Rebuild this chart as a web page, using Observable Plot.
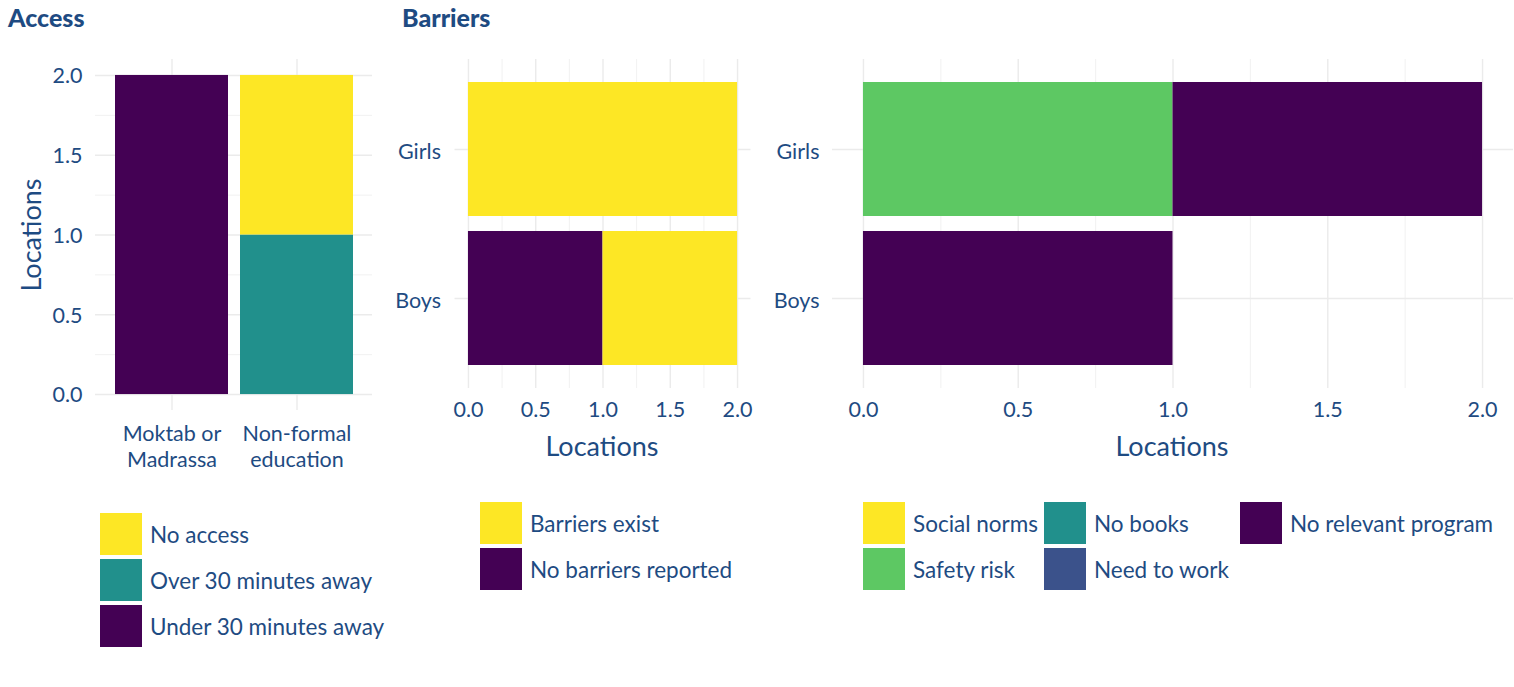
<!DOCTYPE html>
<html>
<head>
<meta charset="utf-8">
<script src="https://cdn.jsdelivr.net/npm/d3@7"></script>
<script src="https://cdn.jsdelivr.net/npm/@observablehq/plot@0.6"></script>
<style>
  html, body { margin: 0; padding: 0; background: #fff; }
  #root { position: relative; width: 1514px; height: 687px; overflow: hidden; font-family: Lato, "Open Sans", sans-serif; color: #1e4b82; }
  .abs { position: absolute; }
  .title { font-weight: 900; font-size: 25px; }
  .axtitle { font-size: 27px; white-space: nowrap; }
  .leg-item { position: absolute; display: flex; align-items: center; font-size: 22.5px; white-space: nowrap; }
  .sw { width: 42px; height: 42px; margin-right: 8px; }
  svg { overflow: visible; }
</style>
</head>
<body>
<div id="root"></div>
<script>
// ---------- data ----------
const accessCats = ["Moktab or Madrassa", "Non-formal education"];
const accessTickLabels = ["Moktab or\nMadrassa", "Non-formal\neducation"];
const accessKeys = ["No access", "Over 30 minutes away", "Under 30 minutes away"];
const accessColors = ["#FDE725", "#21908C", "#440154"];
const accessMoktab = [0, 0, 2];
const accessNonformal = [1, 1, 0];

const groups = ["Girls", "Boys"];
const barrierKeys = ["Barriers exist", "No barriers reported"];
const barrierColors = ["#FDE725", "#440154"];
const barrierGirls = [2, 0];
const barrierBoys = [1, 1];

const typeKeys = ["Social norms", "Safety risk", "No books", "Need to work", "No relevant program"];
const typeColors = ["#FDE725", "#5DC863", "#21908C", "#3B528B", "#440154"];
const typeGirls = [0, 1, 0, 0, 1];
const typeBoys = [0, 0, 0, 0, 1];

const locTicks = [0, 0.5, 1, 1.5, 2];
const locMinor = [0.25, 0.75, 1.25, 1.75];

const TXT = "#1e4b82";
const GRID = "#ebebeb";
const FS = "21.5px";
const root = document.getElementById("root");
const fmt = d3.format(".1f");

function place(el, left, top) {
  el.style.position = "absolute";
  el.style.left = left + "px";
  el.style.top = top + "px";
  root.appendChild(el);
}
function div(cls, text, css) {
  const d = document.createElement("div");
  d.className = "abs " + cls;
  d.textContent = text;
  Object.assign(d.style, css);
  root.appendChild(d);
  return d;
}

// ---------- Panel 1: Access ----------
const accessRows = [];
accessCats.forEach((c, ci) => {
  const vals = ci === 0 ? accessMoktab : accessNonformal;
  for (let k = accessKeys.length - 1; k >= 0; k--) {
    accessRows.push({cat: c, key: accessKeys[k], value: vals[k]});
  }
});
const p1 = Plot.plot({
  width: 400, height: 480,
  marginLeft: 95, marginRight: 28, marginTop: 59, marginBottom: 70,
  style: {fontSize: FS, fontFamily: "Lato, 'Open Sans', sans-serif", color: TXT, background: "transparent"},
  x: {type: "band", domain: accessCats, paddingInner: 0.1, paddingOuter: 0.15, label: null},
  y: {domain: [-0.1, 2.1], label: null},
  color: {domain: accessKeys, range: accessColors},
  marks: [
    Plot.gridY({ticks: locMinor, stroke: GRID, strokeOpacity: 1, strokeWidth: 0.7}),
    Plot.gridY({ticks: locTicks, stroke: GRID, strokeOpacity: 1, strokeWidth: 1.4}),
    Plot.gridX({stroke: GRID, strokeOpacity: 1, strokeWidth: 1.4}),
    Plot.barY(accessRows, Plot.stackY({x: "cat", y: "value", fill: "key"})),
    Plot.axisY({ticks: locTicks, tickFormat: fmt, tickSize: 0, tickPadding: 13, dy: 1, label: null}),
    Plot.axisX({tickFormat: d => accessTickLabels[accessCats.indexOf(d)], tickSize: 0, tickPadding: 12, lineHeight: 1.2, label: null})
  ]
});
place(p1, 0, 0);

// ---------- Panel 2: Barriers ----------
const barrierRows = [];
groups.forEach((g, gi) => {
  const vals = gi === 0 ? barrierGirls : barrierBoys;
  for (let k = barrierKeys.length - 1; k >= 0; k--) {
    barrierRows.push({grp: g, key: barrierKeys[k], value: vals[k]});
  }
});
const p2 = Plot.plot({
  width: 390, height: 480,
  marginLeft: 74.5, marginRight: 19.5, marginTop: 59, marginBottom: 92,
  style: {fontSize: FS, fontFamily: "Lato, 'Open Sans', sans-serif", color: TXT, background: "transparent"},
  x: {domain: [-0.1, 2.1], label: null},
  y: {type: "band", domain: groups, paddingInner: 0.1, paddingOuter: 0.15, label: null},
  color: {domain: barrierKeys, range: barrierColors},
  marks: [
    Plot.gridX({ticks: locMinor, stroke: GRID, strokeOpacity: 1, strokeWidth: 0.7}),
    Plot.gridX({ticks: locTicks, stroke: GRID, strokeOpacity: 1, strokeWidth: 1.4}),
    Plot.gridY({stroke: GRID, strokeOpacity: 1, strokeWidth: 1.4}),
    Plot.barX(barrierRows, Plot.stackX({y: "grp", x: "value", fill: "key"})),
    Plot.axisX({ticks: locTicks, tickFormat: fmt, tickSize: 0, tickPadding: 13, label: null}),
    Plot.axisY({tickSize: 0, tickPadding: 14, dy: 3, label: null})
  ]
});
place(p2, 380, 0);

// ---------- Panel 3: Barrier types ----------
const typeRows = [];
groups.forEach((g, gi) => {
  const vals = gi === 0 ? typeGirls : typeBoys;
  typeKeys.forEach((k, ki) => typeRows.push({grp: g, key: k, value: vals[ki]}));
});
const p3 = Plot.plot({
  width: 744, height: 480,
  marginLeft: 62, marginRight: 1, marginTop: 59, marginBottom: 92,
  style: {fontSize: FS, fontFamily: "Lato, 'Open Sans', sans-serif", color: TXT, background: "transparent"},
  x: {domain: [-0.1, 2.1], label: null},
  y: {type: "band", domain: groups, paddingInner: 0.1, paddingOuter: 0.15, label: null},
  color: {domain: typeKeys, range: typeColors},
  marks: [
    Plot.gridX({ticks: locMinor, stroke: GRID, strokeOpacity: 1, strokeWidth: 0.7}),
    Plot.gridX({ticks: locTicks, stroke: GRID, strokeOpacity: 1, strokeWidth: 1.4}),
    Plot.gridY({stroke: GRID, strokeOpacity: 1, strokeWidth: 1.4}),
    Plot.barX(typeRows, Plot.stackX({y: "grp", x: "value", fill: "key"})),
    Plot.axisX({ticks: locTicks, tickFormat: fmt, tickSize: 0, tickPadding: 13, label: null}),
    Plot.axisY({tickSize: 0, tickPadding: 13, dy: 3, label: null})
  ]
});
place(p3, 770, 0);

// ---------- titles ----------
div("title", "Access", {left: "8px", top: "2px"});
div("title", "Barriers", {left: "402px", top: "2px"});
div("axtitle", "Locations", {left: "30px", top: "235px", transform: "translate(-50%,-50%) rotate(-90deg)"});
div("axtitle", "Locations", {left: "602px", top: "445px", transform: "translate(-50%,-50%)"});
div("axtitle", "Locations", {left: "1172px", top: "445px", transform: "translate(-50%,-50%)"});

// ---------- legends ----------
function legend(keys, colors, positions) {
  keys.forEach((k, i) => {
    const item = document.createElement("div");
    item.className = "leg-item";
    item.style.left = positions[i][0] + "px";
    item.style.top = positions[i][1] + "px";
    const sw = document.createElement("div");
    sw.className = "sw";
    sw.style.background = colors[i];
    const t = document.createElement("span");
    t.textContent = k;
    item.appendChild(sw);
    item.appendChild(t);
    root.appendChild(item);
  });
}
legend(accessKeys, accessColors, [[100, 513], [100, 559], [100, 605]]);
legend(barrierKeys, barrierColors, [[480, 502], [480, 548]]);
legend(typeKeys, typeColors, [[863, 502], [863, 548], [1044, 502], [1044, 548], [1240, 502]]);
</script>
</body>
</html>
